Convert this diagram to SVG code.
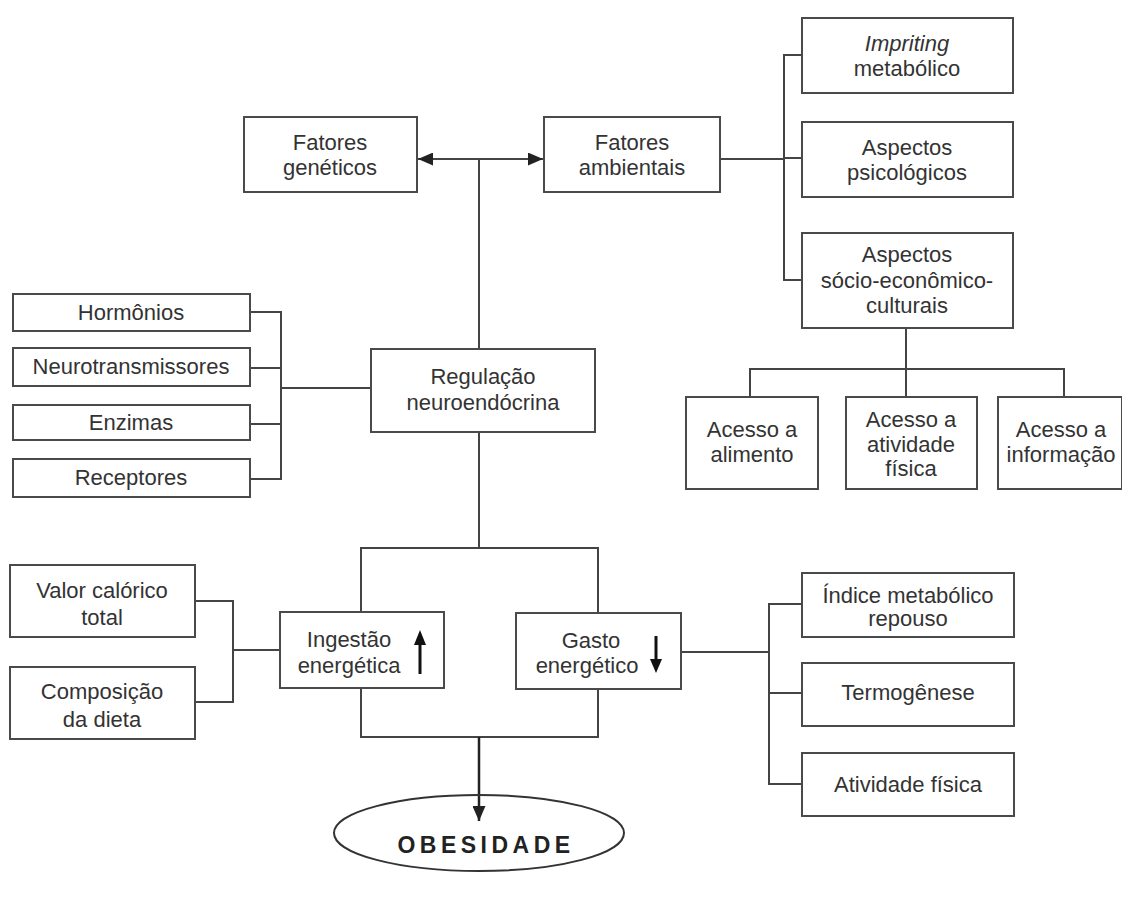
<svg xmlns="http://www.w3.org/2000/svg" width="1122" height="899" viewBox="0 0 1122 899">
<style>
.b{fill:#fff;stroke:#4a4a4a;stroke-width:2}
.t{font-family:"Liberation Sans",Arial,sans-serif;font-size:22px;fill:#333;text-anchor:middle}
.c{fill:none;stroke:#444;stroke-width:2}
</style>
<defs>
<marker id="ah" viewBox="0 0 15 13" refX="15" refY="6.5" markerWidth="15" markerHeight="13" markerUnits="userSpaceOnUse" orient="auto-start-reverse">
<path d="M0,0 L15,6.5 L0,13 Z" fill="#222"/>
</marker>
</defs>
<rect width="1122" height="899" fill="#fff"/>
<g id="connectors">
<path class="c" d="M479,159 V349 M479,432 V548"/>
<path class="c" d="M418,159 H543" marker-start="url(#ah)" marker-end="url(#ah)"/>
<path class="c" d="M720,159 H784 M802,55 H784 V280 H802 M784,158 H802"/>
<path class="c" d="M906,328 V369 M750,397 V369 H1064 V397 M906,369 V397"/>
<path class="c" d="M250,312 H281 V479 H250 M250,368 H281 M250,424 H281 M281,388 H371"/>
<path class="c" d="M195,601 H233 V702 H195 M233,650 H280"/>
<rect class="c" x="361" y="548" width="237" height="189"/>
<path class="c" d="M681,652 H769 M802,604 H769 V784 H802 M769,693 H802"/>
<path d="M479,737 V821" stroke="#222" stroke-width="2.5" fill="none" marker-end="url(#ah)"/>
</g>
<g id="fatores-geneticos"><rect class="b" x="244" y="117" width="173" height="75"/><text class="t" x="330" y="150">Fatores</text><text class="t" x="330" y="175">genéticos</text></g>
<g id="fatores-ambientais"><rect class="b" x="544" y="117" width="176" height="75"/><text class="t" x="632" y="150">Fatores</text><text class="t" x="632" y="175">ambientais</text></g>
<g id="impriting"><rect class="b" x="802" y="18" width="211" height="75"/><text class="t" x="907" y="51" font-style="italic">Impriting</text><text class="t" x="907" y="76">metabólico</text></g>
<g id="psicologicos"><rect class="b" x="802" y="122" width="211" height="75"/><text class="t" x="907" y="155">Aspectos</text><text class="t" x="907" y="180">psicológicos</text></g>
<g id="socio"><rect class="b" x="802" y="233" width="211" height="95"/><text class="t" x="907" y="262">Aspectos</text><text class="t" x="907" y="288">sócio-econômico-</text><text class="t" x="907" y="313">culturais</text></g>
<g id="acesso-alimento"><rect class="b" x="686" y="397" width="132" height="92"/><text class="t" x="752" y="437">Acesso a</text><text class="t" x="752" y="462">alimento</text></g>
<g id="acesso-atividade"><rect class="b" x="846" y="397" width="131" height="92"/><text class="t" x="911" y="427">Acesso a</text><text class="t" x="911" y="452">atividade</text><text class="t" x="911" y="476">física</text></g>
<g id="acesso-informacao"><rect class="b" x="998" y="397" width="124" height="92"/><text class="t" x="1061" y="437">Acesso a</text><text class="t" x="1061" y="462">informação</text></g>
<g id="regulacao"><rect class="b" x="371" y="349" width="224" height="83"/><text class="t" x="483" y="384">Regulação</text><text class="t" x="483" y="410">neuroendócrina</text></g>
<g id="hormonios"><rect class="b" x="13" y="294" width="237" height="37"/><text class="t" x="131" y="320">Hormônios</text></g>
<g id="neurotransmissores"><rect class="b" x="13" y="348" width="237" height="38"/><text class="t" x="131" y="374">Neurotransmissores</text></g>
<g id="enzimas"><rect class="b" x="13" y="405" width="237" height="35"/><text class="t" x="131" y="430">Enzimas</text></g>
<g id="receptores"><rect class="b" x="13" y="459" width="237" height="38"/><text class="t" x="131" y="485">Receptores</text></g>
<g id="valor-calorico"><rect class="b" x="10" y="565" width="185" height="72"/><text class="t" x="102" y="598">Valor calórico</text><text class="t" x="102" y="625">total</text></g>
<g id="composicao"><rect class="b" x="10" y="667" width="185" height="72"/><text class="t" x="102" y="699">Composição</text><text class="t" x="102" y="727">da dieta</text></g>
<g id="ingestao"><rect class="b" x="280" y="612" width="164" height="76"/><text class="t" x="349" y="647">Ingestão</text><text class="t" x="349" y="673">energética</text>
<path d="M420,674 V642" stroke="#111" stroke-width="3"/><path d="M414,645 L420,630 L426,645 Z" fill="#111"/></g>
<g id="gasto"><rect class="b" x="516" y="613" width="165" height="76"/><text class="t" x="591" y="648">Gasto</text><text class="t" x="587" y="673">energético</text>
<path d="M656,636 V662" stroke="#111" stroke-width="3"/><path d="M650,659 L656,673 L662,659 Z" fill="#111"/></g>
<g id="indice"><rect class="b" x="802" y="573" width="212" height="64"/><text class="t" x="908" y="603">Índice metabólico</text><text class="t" x="908" y="626">repouso</text></g>
<g id="termogenese"><rect class="b" x="802" y="663" width="212" height="63"/><text class="t" x="908" y="700">Termogênese</text></g>
<g id="atividade-fisica"><rect class="b" x="802" y="753" width="212" height="63"/><text class="t" x="908" y="792">Atividade física</text></g>
<g id="obesidade"><ellipse cx="479" cy="833" rx="145" ry="38" fill="none" stroke="#333" stroke-width="2"/>
<text x="486" y="853" font-family="'Liberation Sans',Arial,sans-serif" font-size="23" font-weight="bold" letter-spacing="4.5" fill="#222" text-anchor="middle">OBESIDADE</text></g>
</svg>
